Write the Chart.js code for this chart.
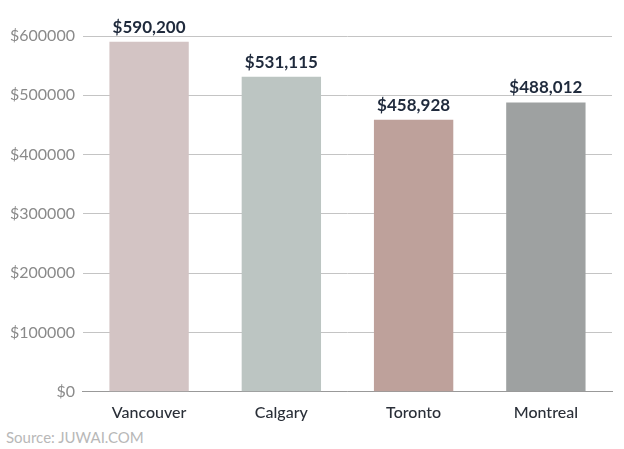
<!DOCTYPE html>
<html>
<head>
<script src="https://cdn.jsdelivr.net/npm/chart.js@4"></script>
<style>
  body { margin: 0; background: #fff; }
  #wrap { position: relative; width: 624px; height: 425px; }
  #source { position: absolute; left: 6px; top: 428px; font: 15px Lato, sans-serif; color: #b8b8b8; }
</style>
</head>
<body>
<div id="wrap"><canvas id="chart"></canvas></div>
<div id="source">Source: JUWAI.COM</div>
<script>
const cities = ["Vancouver", "Calgary", "Toronto", "Montreal"];
const prices = [590200, 531115, 458928, 488012];
const barColors = ["#d3c4c4", "#bcc5c2", "#bea19b", "#9ea1a1"];

// draws "$590,200" above each bar
const valueLabels = {
  id: "valueLabels",
  afterDatasetsDraw(chart) {
    const ctx = chart.ctx;
    const meta = chart.getDatasetMeta(0);
    ctx.save();
    ctx.font = "bold 17px Lato, sans-serif";
    ctx.fillStyle = "#1f2a3c";
    ctx.textAlign = "center";
    ctx.textBaseline = "bottom";
    meta.data.forEach((bar, i) => {
      ctx.fillText("$" + prices[i].toLocaleString("en-US"), bar.x, bar.y - 6);
    });
    ctx.restore();
  }
};

new Chart(document.getElementById("chart"), {
  type: "bar",
  data: {
    labels: cities,
    datasets: [{ data: prices, backgroundColor: barColors, categoryPercentage: 0.6, barPercentage: 1 }]
  },
  options: {
    responsive: true,
    maintainAspectRatio: false,
    animation: false,
    layout: { padding: { top: 36, right: 12, left: 2 } },
    plugins: { legend: { display: false }, tooltip: { enabled: false } },
    scales: {
      x: {
        grid: { display: false },
        border: { color: "#999" },
        ticks: { color: "#2a2f38", font: { family: "Lato, sans-serif", size: 16, weight: "500" } }
      },
      y: {
        min: 0, max: 600000,
        border: { display: false },
        grid: { color: "#c4c4c4", drawTicks: false },
        ticks: {
          stepSize: 100000, padding: 8,
          color: "#8a8a8a", font: { family: "Lato, sans-serif", size: 16 },
          callback: v => "$" + v
        }
      }
    }
  },
  plugins: [valueLabels]
});
</script>
</body>
</html>
